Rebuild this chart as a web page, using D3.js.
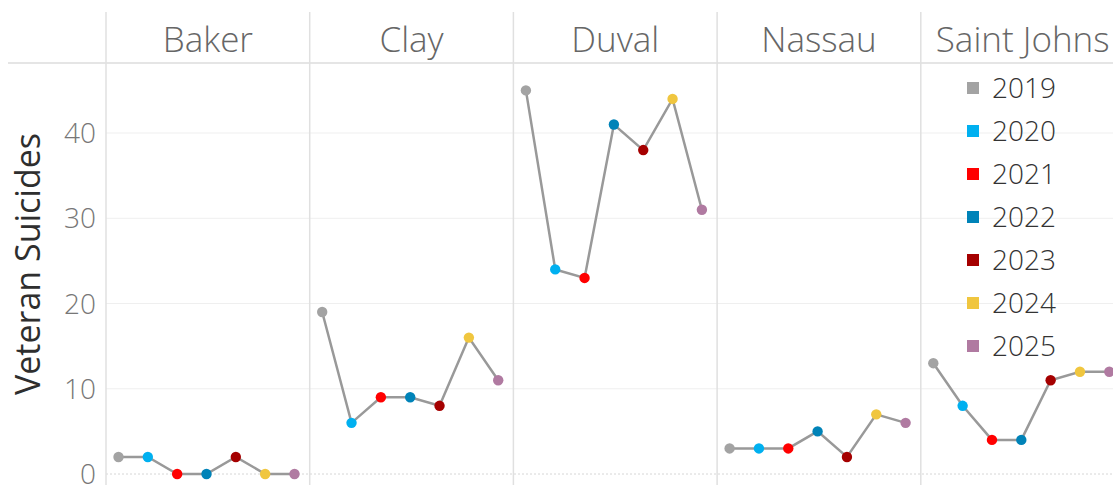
<!DOCTYPE html>
<meta charset="utf-8">
<style>
    body { margin: 0; background: #fff; }
    svg text { font-family: "Open Sans", "Noto Sans", sans-serif; }
</style>
<script src="https://d3js.org/d3.v7.min.js"></script>
<svg id="chart" width="1113" height="485"></svg>
<script>
    // data
    var counties = ["Baker", "Clay", "Duval", "Nassau", "Saint Johns"];
    var years = ["2019", "2020", "2021", "2022", "2023", "2024", "2025"];
    var yearColors = ["#a3a3a3", "#00b0f0", "#ff0000", "#0083b8", "#a50000", "#f0c63f", "#b07aa1"];
    var baker = [2, 2, 0, 0, 2, 0, 0];
    var clay = [19, 6, 9, 9, 8, 16, 11];
    var duval = [45, 24, 23, 41, 38, 44, 31];
    var nassau = [3, 3, 3, 5, 2, 7, 6];
    var saintJohns = [13, 8, 4, 4, 11, 12, 12];
    var yTicks = [0, 10, 20, 30, 40];

    var series = [baker, clay, duval, nassau, saintJohns];

    var svg = d3.select("#chart");
    var left = 106, panelW = 203.7, headerTop = 12, headerBottom = 63;

    var x0 = d3.scaleBand().domain(counties).range([left, left + panelW * counties.length]).padding(0);
    var xi = d3.scalePoint().domain(years).range([12.5, 188.5]);
    var y = d3.scaleLinear().domain([0, 45]).range([474, 90.4]);
    var color = d3.scaleOrdinal().domain(years).range(yearColors);

    // horizontal grid
    svg.append("g").selectAll("line")
        .data(yTicks.filter(function(d) { return d > 0; }))
        .enter().append("line")
        .attr("x1", left).attr("x2", 1113)
        .attr("y1", function(d) { return y(d); }).attr("y2", function(d) { return y(d); })
        .attr("stroke", "#efefef").attr("stroke-width", 1);

    // zero line dotted
    svg.append("line")
        .attr("x1", left).attr("x2", 1113)
        .attr("y1", y(0)).attr("y2", y(0))
        .attr("stroke", "#d6d6d6").attr("stroke-dasharray", "2,2");

    // header line
    svg.append("line")
        .attr("x1", 8).attr("x2", 1113)
        .attr("y1", headerBottom).attr("y2", headerBottom)
        .attr("stroke", "#dcdcdc").attr("stroke-width", 1.5);

    // column separators
    svg.append("g").selectAll("line")
        .data(counties)
        .enter().append("line")
        .attr("x1", function(d) { return x0(d); }).attr("x2", function(d) { return x0(d); })
        .attr("y1", headerTop).attr("y2", 485)
        .attr("stroke", "#e0e0e0").attr("stroke-width", 1.5);

    // header text
    svg.append("g").selectAll("text")
        .data(counties)
        .enter().append("text")
        .attr("x", function(d) { return x0(d) + panelW / 2; })
        .attr("y", 52)
        .attr("text-anchor", "middle")
        .attr("font-size", 35)
        .attr("font-weight", 300)
        .attr("fill", "#666")
        .text(function(d) { return d; });

    // y tick labels
    svg.append("g").selectAll("text")
        .data(yTicks)
        .enter().append("text")
        .attr("x", 96)
        .attr("y", function(d) { return y(d); })
        .attr("dy", "0.36em")
        .attr("text-anchor", "end")
        .attr("font-size", 28)
        .attr("font-weight", 300)
        .attr("fill", "#777")
        .text(function(d) { return d; });

    // y axis title
    svg.append("text")
        .attr("transform", "translate(40,264) rotate(-90)")
        .attr("text-anchor", "middle")
        .attr("font-size", 34)
        .attr("font-weight", 500)
        .attr("fill", "#2e2e2e")
        .text("Veteran Suicides");

    // lines and points
    var line = d3.line()
        .x(function(d, i) { return xi(years[i]); })
        .y(function(d) { return y(d); });

    var panels = svg.append("g").selectAll("g")
        .data(series)
        .enter().append("g")
        .attr("transform", function(d, i) { return "translate(" + x0(counties[i]) + ",0)"; });

    panels.append("path")
        .attr("d", function(d) { return line(d); })
        .attr("fill", "none")
        .attr("stroke", "#999")
        .attr("stroke-width", 2.5);

    panels.selectAll("circle")
        .data(function(d) { return d; })
        .enter().append("circle")
        .attr("cx", function(d, i) { return xi(years[i]); })
        .attr("cy", function(d) { return y(d); })
        .attr("r", 5.2)
        .attr("fill", function(d, i) { return color(years[i]); });

    // legend
    var legend = svg.append("g").selectAll("g")
        .data(years)
        .enter().append("g")
        .attr("transform", function(d, i) { return "translate(967," + (88 + i * 43) + ")"; });

    legend.append("rect")
        .attr("x", 0).attr("y", -6)
        .attr("width", 12).attr("height", 12)
        .attr("fill", function(d) { return color(d); });

    legend.append("text")
        .attr("x", 25)
        .attr("y", 0)
        .attr("dy", "0.36em")
        .attr("font-size", 28)
        .attr("font-weight", 300)
        .attr("fill", "#333")
        .text(function(d) { return d; });
</script>
